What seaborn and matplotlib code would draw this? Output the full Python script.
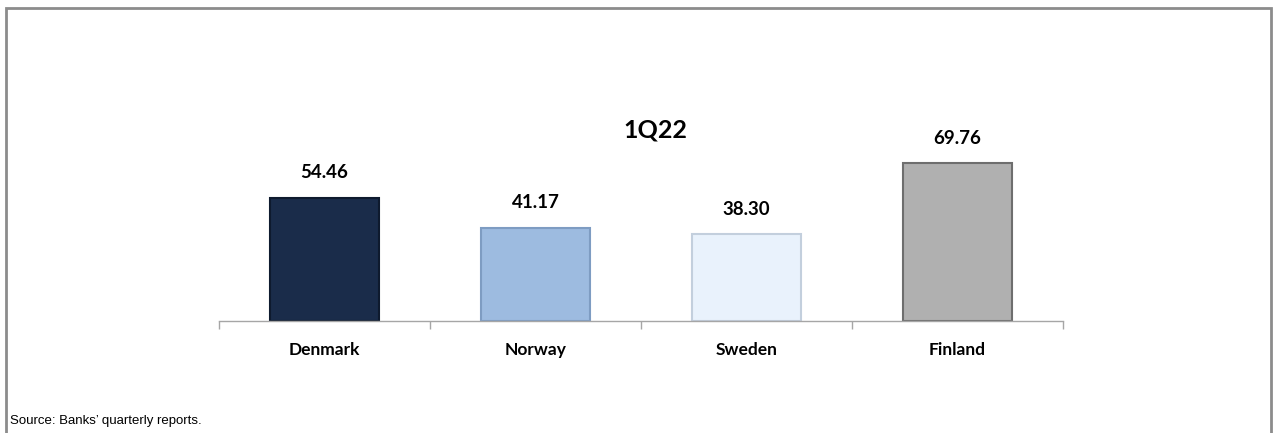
import matplotlib.pyplot as plt
import numpy as np
import pandas as pd
import seaborn as sns
from matplotlib.patches import Rectangle

countries = ["Denmark", "Norway", "Sweden", "Finland"]
values = [54.46, 41.17, 38.30, 69.76]
bar_colors = ["#1a2c4a", "#9dbbe0", "#e9f2fc", "#b0b0b0"]
edge_colors = ["#0e1a2e", "#7e9cc2", "#c3cfdd", "#6e6e6e"]
title = "1Q22"
source = "Source: Banks\u2019 quarterly reports."

W, H = 1276, 433


def plot_chart():
    ''' Bar chart of the 1Q22 values per country, framed like the report figure. '''
    df = pd.DataFrame({"country": countries, "value": values})

    sns.set_style("white")
    plt.rcParams['font.family'] = ['Lato', 'DejaVu Sans']
    plt.rcParams['text.color'] = 'black'
    plt.rcParams['xtick.color'] = 'black'

    fig = plt.figure(figsize=(W / 100, H / 100), dpi=100)
    # axes placed so the baseline sits where the reference has it
    ax = fig.add_axes([219 / W, 112 / H, (1063 - 219) / W, 181 / H])

    sns.barplot(data=df, x="country", y="value", hue="country",
                palette=bar_colors, width=0.52, legend=False, ax=ax,
                saturation=1)
    for bar, ec in zip(ax.patches, edge_colors):
        bar.set_edgecolor(ec)
        bar.set_linewidth(1.5)

    ax.set_ylim(0, 80)
    ax.set_xlim(-0.5, len(countries) - 0.5)
    ax.set_xlabel("")
    ax.set_ylabel("")
    ax.set_yticks([])
    ax.set_xticks(range(len(countries)))
    ax.set_xticklabels(countries, fontsize=12.5, fontweight='bold', color='black')
    ax.set_xticks(np.arange(-0.5, len(countries)), minor=True)
    ax.tick_params(axis='x', which='major', length=0, pad=15)
    ax.tick_params(axis='x', which='minor', bottom=True, length=6, width=1,
                   color='#a6a6a6', direction='out')
    for side in ['top', 'left', 'right']:
        ax.spines[side].set_visible(False)
    ax.spines['bottom'].set_color('#a6a6a6')
    ax.spines['bottom'].set_linewidth(1)

    for i, v in enumerate(values):
        ax.annotate(f"{v:.2f}", (i, v), xytext=(0, 18), textcoords='offset points',
                    ha='center', va='center', fontsize=13.5, fontweight='bold',
                    color='black')

    fig.text(655 / W, 1 - 130 / H, title, ha='center', va='center',
             fontsize=18, fontweight='bold', color='black')
    fig.text(10 / W, 1 - 421 / H, source, ha='left', va='center',
             fontsize=9.5, family=['Liberation Sans', 'DejaVu Sans'], color='black')

    # outer frame (left, top, right; runs off the bottom of the image)
    fig.patches.append(Rectangle((6 / W, -0.1), (1271 - 6) / W, 1.1 - 8 / H,
                                 transform=fig.transFigure, fill=False,
                                 edgecolor='#8c8c8c', linewidth=2))

    fig.savefig("out.png", dpi=100)


if __name__ == '__main__':
    plot_chart()
